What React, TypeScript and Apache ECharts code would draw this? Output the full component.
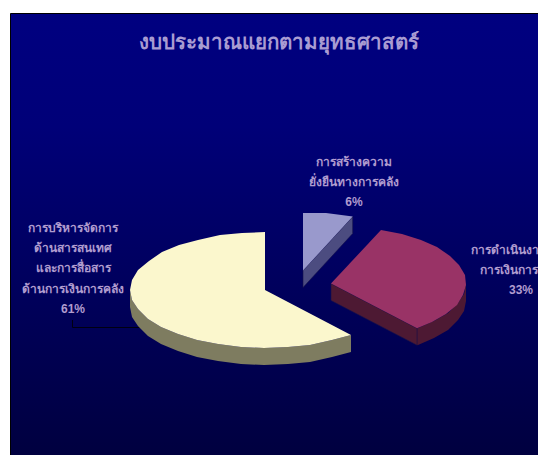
import React, { useEffect, useRef } from "react";
import * as echarts from "echarts";

const chartTitle = "งบประมาณแยกตามยุทธศาสตร์";
// Slices run clockwise from twelve o'clock.
const shares = [6, 33, 61];
const sliceLabels = [
  ["การสร้างความ", "ยั่งยืนทางการคลัง"],
  ["การดำเนินงา", "การเงินการ"],
  ["การบริหารจัดการ", "ด้านสารสนเทศ", "และการสื่อสาร", "ด้านการเงินการคลัง"],
];
const topColors = ["#9999CC", "#993366", "#FBF7CD"];
const sideColors = ["#4C4C80", "#4D1933", "#7E7C60"];

const RX = 135;
const RY = 58;
const DEPTH = 17;
const STEP = 10;
const apexes = [
  [303, 270.5],
  [331, 283.5],
  [265, 290],
];
const labelCenters = [
  [354, 162],
  [521, 250],
  [73, 228],
];
// Horizontal nudge per text line, for the block that runs up to the right edge.
const lineShifts = [
  [0, 0, 0],
  [-16, -12, 0],
  [0, 0, 0, 0, 0],
];
const LINE_HEIGHT = 20.2;
const FONT = "'Liberation Sans', 'Noto Sans', sans-serif";
const TEXT_COLOR = "#B09CCF";

const arcPoints = (cx: number, cy: number, from: number, to: number) => {
  const pts: number[][] = [];
  for (let t = from; t < to; t += STEP) {
    const r = (t * Math.PI) / 180;
    pts.push([Math.round(cx + RX * Math.sin(r)), Math.round(cy - RY * Math.cos(r))]);
  }
  const e = (to * Math.PI) / 180;
  pts.push([cx + RX * Math.sin(e), cy - RY * Math.cos(e)]);
  return pts;
};

const renderSlice = (_: any, api: any) => {
  const i = api.value(1) as number;
  const total = shares.reduce((a, b) => a + b, 0);
  const before = shares.slice(0, i).reduce((a, b) => a + b, 0);
  const start = (before / total) * 360;
  const end = ((before + api.value(0)) / total) * 360;
  const [cx, cy] = apexes[i];
  const top = arcPoints(cx, cy, start, end);
  const z2 = i === 2 ? 1 : i === 1 ? 2 : 3;
  const children: any[] = [];

  // Rim: only the part of the arc on the near half of the ellipse shows.
  const rimFrom = Math.max(start, 90);
  const rimTo = Math.min(end, 270);
  if (rimFrom < rimTo) {
    const upper = arcPoints(cx, cy, rimFrom, rimTo);
    const lower = upper.map(([x, y]) => [x, y + DEPTH]).reverse();
    children.push({
      type: "polygon",
      z2,
      shape: { points: [...upper, ...lower] },
      style: { fill: sideColors[i] },
    });
  }

  // Cut face along the clockwise edge, visible when it turns towards the viewer.
  if (Math.sin((end * Math.PI) / 180) > 0.001) {
    const tip = top[top.length - 1];
    children.push({
      type: "polygon",
      z2,
      shape: {
        points: [
          [cx, cy],
          tip,
          [tip[0], tip[1] + DEPTH],
          [cx, cy + DEPTH],
        ],
      },
      style: { fill: sideColors[i], stroke: "#14104A", lineWidth: 0.6 },
    });
  }

  children.push({
    type: "polygon",
    z2: z2 + 0.5,
    shape: { points: [[cx, cy], ...top] },
    style: { fill: topColors[i] },
  });

  // Category lines followed by the share in percent.
  const lines = [...sliceLabels[i], `${api.value(0)}%`];
  lines.forEach((text, n) => {
    children.push({
      type: "text",
      z2: 10,
      x: labelCenters[i][0] + lineShifts[i][n],
      y: labelCenters[i][1] + n * LINE_HEIGHT,
      style: {
        text,
        fill: TEXT_COLOR,
        font: `bold 12px ${FONT}`,
        textAlign: "center",
        textVerticalAlign: "middle",
      },
    });
  });

  return { type: "group", children };
};

export default function App() {
  const ref = useRef<HTMLDivElement>(null);

  useEffect(() => {
    const chart = echarts.init(ref.current!, null, { renderer: "svg" });
    chart.setOption({
      animation: false,
      backgroundColor: "#FFFFFF",
      title: {
        text: chartTitle,
        left: 273.5,
        top: 26,
        textAlign: "center",
        textStyle: { color: "#A99CD2", fontSize: 20.5, fontWeight: "bold", fontFamily: FONT },
      },
      graphic: [
        {
          type: "rect",
          z: -1,
          silent: true,
          shape: { x: 10.5, y: 13.5, width: 540, height: 450 },
          style: {
            stroke: "#000000",
            lineWidth: 1,
            fill: {
              type: "linear",
              x: 0,
              y: 0,
              x2: 0,
              y2: 1,
              colorStops: [
                { offset: 0, color: "#000080" },
                { offset: 0.25, color: "#000078" },
                { offset: 1, color: "#00003E" },
              ],
            },
          },
        },
        {
          type: "polyline",
          z: 1,
          silent: true,
          shape: { points: [[72.5, 320], [72.5, 327.5], [140, 327.5]] },
          style: { stroke: "#000010", lineWidth: 1, fill: "none" },
        },
      ],
      series: [
        {
          type: "custom",
          coordinateSystem: "none",
          renderItem: renderSlice,
          data: shares.map((v, i) => [v, i]),
        },
      ],
    });
    return () => chart.dispose();
  }, []);

  return (
    <div
      ref={ref}
      style={{ position: "fixed", left: 0, top: 0, width: 538, height: 455 }}
    />
  );
}
